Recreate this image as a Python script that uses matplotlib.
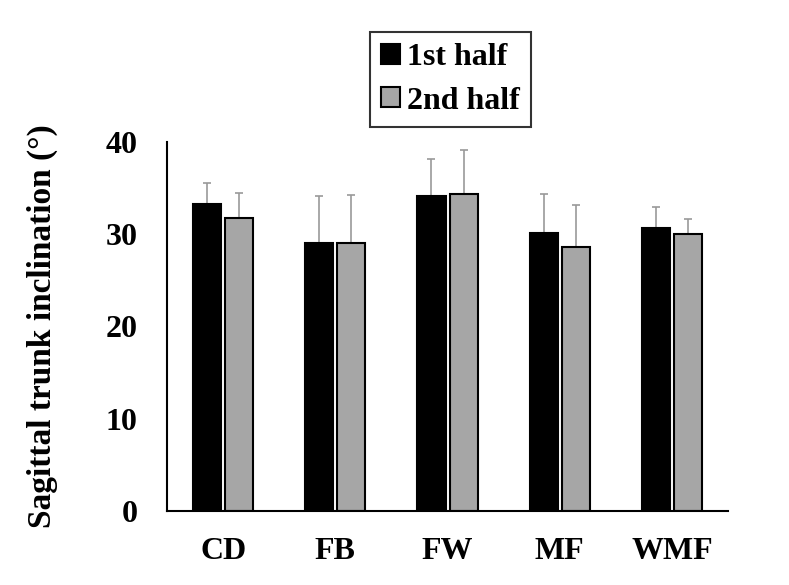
import matplotlib
matplotlib.use('Agg')
import matplotlib.pyplot as plt
import numpy as np
from matplotlib.patches import Patch

plt.rcParams['font.family'] = ['Liberation Serif', 'DejaVu Serif']
plt.rcParams['font.weight'] = 'bold'

categories = ['CD', 'FB', 'FW', 'MF', 'WMF']
first_half = [33.3, 29.0, 34.1, 30.1, 30.7]
second_half = [31.8, 29.1, 34.4, 28.6, 30.0]
first_sd = [2.3, 5.1, 4.1, 4.3, 2.3]
second_sd = [2.7, 5.2, 4.7, 4.6, 1.6]
legend_labels = ['1st half', '2nd half']

fig = plt.figure(figsize=(7.89, 5.85), dpi=100)
ax = fig.add_axes([0.2117, 0.1265, 0.711, 0.6308])

x = np.arange(len(categories))
w = 0.25
off = 0.143

ax.bar(x - off, first_half, w, color='black', edgecolor='black', linewidth=1.5, zorder=2)
ax.bar(x + off, second_half, w, color='#a6a6a6', edgecolor='black', linewidth=1.5, zorder=2)
ax.errorbar(x - off, first_half, yerr=[np.zeros(5), first_sd], fmt='none',
            ecolor='#999999', elinewidth=1.2, capsize=3, capthick=1.2, zorder=1)
ax.errorbar(x + off, second_half, yerr=[np.zeros(5), second_sd], fmt='none',
            ecolor='#999999', elinewidth=1.2, capsize=3, capthick=1.2, zorder=1)

ax.set_xlim(-0.5, 4.5)
ax.set_ylim(0, 40)
ax.set_yticks([0, 10, 20, 30, 40])
ax.set_xticks(x)
ax.set_xticklabels(categories)
ax.tick_params(axis='both', length=0, labelsize=23)
ax.tick_params(axis='y', pad=21)
ax.tick_params(axis='x', pad=19)
for lab in ax.get_xticklabels() + ax.get_yticklabels():
    lab.set_fontweight('bold')

ax.spines['top'].set_visible(False)
ax.spines['right'].set_visible(False)
ax.spines['left'].set_linewidth(1.5)
ax.spines['bottom'].set_linewidth(1.5)

ax.set_ylabel('Sagittal trunk inclination (°)', fontsize=24, fontweight='bold')
ax.yaxis.set_label_coords(-0.194, 0.5)

handles = [Patch(facecolor='black', edgecolor='black', linewidth=1.5),
           Patch(facecolor='#a6a6a6', edgecolor='black', linewidth=1.5)]
leg = fig.legend(handles, legend_labels, loc='upper left',
                 bbox_to_anchor=(370 / 789, 1 - 32 / 585),
                 prop={'size': 23, 'weight': 'bold'}, frameon=True, fancybox=False,
                 handlelength=0.6, handleheight=0.6, handletextpad=0.2,
                 labelspacing=0.45, borderpad=0.35, borderaxespad=0)
leg.get_frame().set_edgecolor('black')
leg.get_frame().set_linewidth(1.5)

fig.savefig('out.png', dpi=100)
